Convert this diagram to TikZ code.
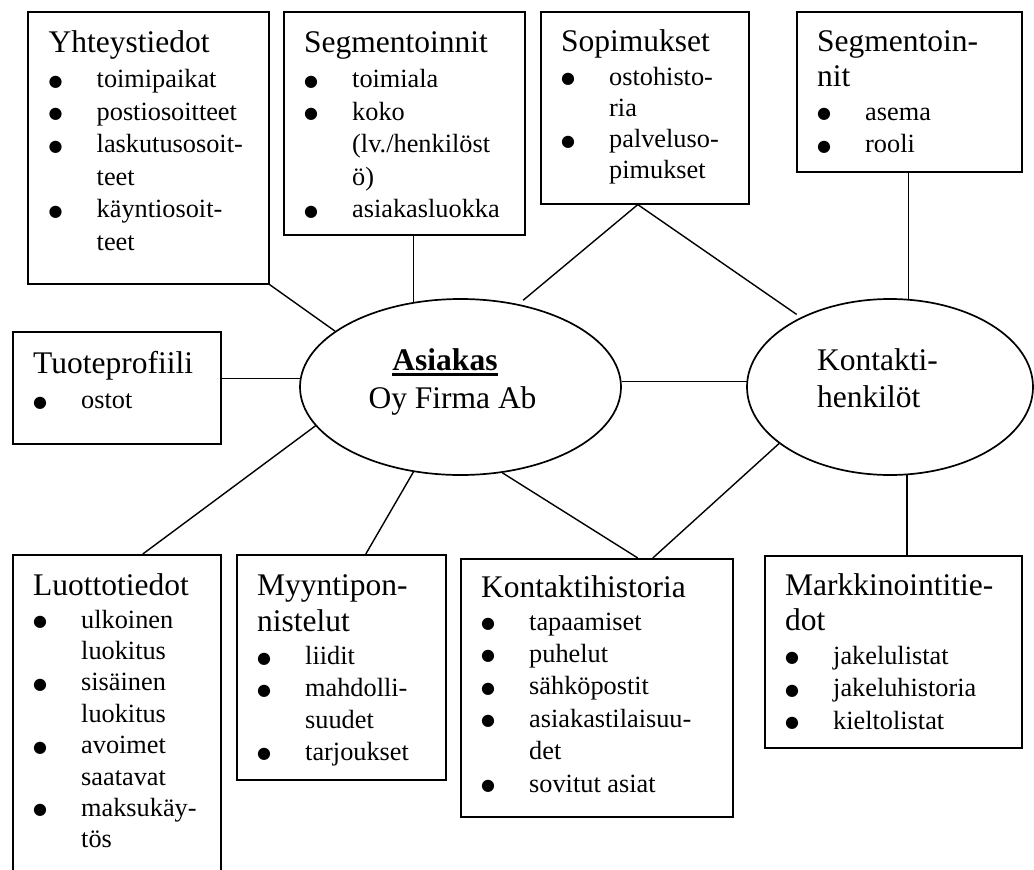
\documentclass[tikz,border=0pt]{standalone}
\usepackage{fontspec}
\setmainfont{Liberation Serif}
\newfontfamily\dvfont{DejaVu Sans}
\usetikzlibrary{shapes.geometric}
\newcommand\hfnt{\fontsize{31.5}{37}\selectfont}
\newcommand\hd[1]{{\hfnt #1}}
\newcommand\bul{\raisebox{1.6pt}{\dvfont\fontsize{16}{16}\selectfont ●}}
\newcommand\itm[1]{\makebox[48pt][l]{\bul}#1}
\newcommand\cnt[1]{\hspace*{48pt}#1}
\begin{document}
\begin{tikzpicture}[x=1pt,y=-1pt,
  box/.style={draw, line width=1.6pt, rectangle, anchor=north west, inner sep=0pt},
  ell/.style={draw, line width=1.7pt, ellipse, inner sep=0pt},
  conn/.style={draw, line width=1.4pt},
  txt/.style={inner sep=0pt, anchor=base west, font=\fontsize{26.3}{32.6}\selectfont}]
\useasboundingbox (0,0) rectangle (1034,870);
\fill[white] (0,0) rectangle (1034,870);

% boxes
\node[box, minimum width=241pt, minimum height=272pt] (yht) at (27,11) {};
\node[box, minimum width=241pt, minimum height=223pt] (seg1) at (283,11) {};
\node[box, minimum width=208pt, minimum height=192pt] (sop) at (540,11) {};
\node[box, minimum width=225pt, minimum height=160pt] (seg2) at (796,11) {};
\node[box, minimum width=208pt, minimum height=112pt] (tuo) at (12,331) {};
\node[box, minimum width=208pt, minimum height=340pt] (luo) at (12,554) {};
\node[box, minimum width=209pt, minimum height=225pt] (myy) at (236,554) {};
\node[box, minimum width=272pt, minimum height=258pt] (kh) at (460,558) {};
\node[box, minimum width=257pt, minimum height=192pt] (mk) at (764,555) {};

% ellipses
\node[ell, minimum width=321pt, minimum height=176pt] (A) at (460.5,387) {};
\node[ell, minimum width=286pt, minimum height=176pt] (K) at (890,387) {};

% connectors
\draw[conn] (yht.south east) -- (A.156.6);
\draw[conn] (A.119.7) -- (A.119.7 |- seg1.south);
\draw[conn, shorten >=6pt] ([xshift=-7pt]sop.south) -- (A.55.9);
\draw[conn, shorten >=5pt] ([xshift=-7pt]sop.south) -- (K.142.1);
\draw[conn] (K.78.3) -- (K.78.3 |- seg2.south);
\draw[conn] (A.177.1) -- (A.177.1 -| tuo.east);
\draw[conn] (A.2.9) -- (K.176.8 |- A.2.9);
\draw[conn] (A.195.6) -- ([xshift=26pt]luo.north);
\draw[conn] (A.241.5) -- ([xshift=24.5pt]myy.north);
\draw[conn] (A.296.3) -- ([xshift=41pt]kh.north);
\draw[conn] (K.207) -- ([xshift=56pt]kh.north);
\draw[conn] (K.281.7) -- (K.281.7 |- mk.north);

% texts
\node[txt] (yhtT) at (48.5,52) {\begin{tabular}[t]{@{}l@{}}\hd{Yhteystiedot}\\[3pt]
 \itm{toimipaikat}\\ \itm{postiosoitteet}\\ \itm{laskutusosoit-}\\ \cnt{teet}\\
 \itm{käyntiosoit-}\\ \cnt{teet}\end{tabular}};
\node[txt] (seg1T) at (304,52) {\begin{tabular}[t]{@{}l@{}}\hd{Segmentoinnit}\\[3pt]
 \itm{toimiala}\\ \itm{koko}\\ \cnt{(lv./henkilöst}\\ \cnt{ö)}\\ \itm{asiakasluokka}\end{tabular}};
\node[txt, font=\fontsize{26.3}{31.2}\selectfont] (sopT) at (561,51) {\begin{tabular}[t]{@{}l@{}}\hd{Sopimukset}\\[3pt]
 \itm{ostohisto-}\\ \cnt{ria}\\ \itm{palveluso-}\\ \cnt{pimukset}\end{tabular}};
\node[txt] (seg2T) at (817,51) {\begin{tabular}[t]{@{}l@{}}\hd{Segmentoin-}\\[3pt]
 \hd{nit}\\[1pt] \itm{asema}\\ \itm{rooli}\end{tabular}};
\node[txt] (tuoT) at (33,373) {\begin{tabular}[t]{@{}l@{}}\hd{Tuoteprofiili}\\[3pt]
 \itm{ostot}\end{tabular}};
\node[txt, font=\fontsize{26.3}{31.4}\selectfont] (luoT) at (33,595) {\begin{tabular}[t]{@{}l@{}}\hd{Luottotiedot}\\[1.6pt]
 \itm{ulkoinen}\\ \cnt{luokitus}\\ \itm{sisäinen}\\ \cnt{luokitus}\\
 \itm{avoimet}\\ \cnt{saatavat}\\ \itm{maksukäy-}\\ \cnt{tös}\end{tabular}};
\node[txt, font=\fontsize{26.3}{31.8}\selectfont] (myyT) at (257,595) {\begin{tabular}[t]{@{}l@{}}\hd{Myyntipon-}\\[5pt]
 \hd{nistelut}\\[1.2pt] \itm{liidit}\\ \itm{mahdolli-}\\ \cnt{suudet}\\ \itm{tarjoukset}\end{tabular}};
\node[txt, font=\fontsize{26.3}{32.4}\selectfont] (khT) at (481,597) {\begin{tabular}[t]{@{}l@{}}\hd{Kontaktihistoria}\\[0.6pt]
 \itm{tapaamiset}\\ \itm{puhelut}\\ \itm{sähköpostit}\\ \itm{asiakastilaisuu-}\\ \cnt{det}\\ \itm{sovitut asiat}\end{tabular}};
\node[txt] (mkT) at (785,595) {\begin{tabular}[t]{@{}l@{}}\hd{Markkinointitie-}\\[3pt]
 \hd{dot}\\[1pt] \itm{jakelulistat}\\ \itm{jakeluhistoria}\\ \itm{kieltolistat}\end{tabular}};

% ellipse texts
\node[txt, anchor=base, font=\hfnt\bfseries] (aT) at (445,370) {Asiakas};
\draw[line width=3.6pt] ([yshift=-4.5pt]aT.base west) -- ([yshift=-4.5pt]aT.base east);
\node[txt, anchor=base, font=\hfnt] (fT) at (452.5,408) {Oy Firma Ab};
\node[txt, font=\hfnt] (kT) at (817,370) {\begin{tabular}[t]{@{}l@{}}Kontakti-\\ henkilöt\end{tabular}};
\end{tikzpicture}
\end{document}
